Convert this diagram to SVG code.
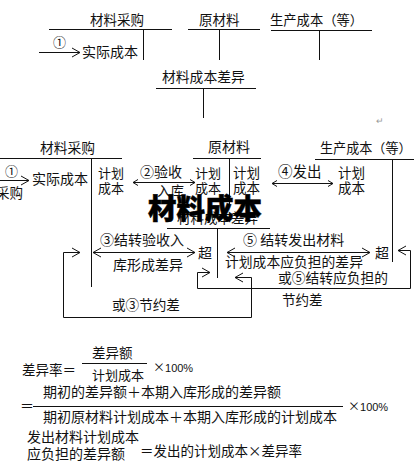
<svg xmlns="http://www.w3.org/2000/svg" width="414" height="465" viewBox="0 0 414 465">
<defs>
<style>
text{font-family:'Noto Sans CJK SC','Noto Sans',sans-serif;fill:#111;font-size:13.5px}
.ln{stroke:#111;stroke-width:1;fill:none}
.big{font-size:28.5px;font-weight:900;fill:#000;stroke:#000;stroke-width:0.5px}
.pct{font-family:'Liberation Sans',sans-serif;font-size:11px}
</style>
<marker id="ah" markerUnits="userSpaceOnUse" markerWidth="12" markerHeight="12" refX="9" refY="6" orient="auto-start-reverse"><path d="M1,1.5 L9,6 L1,10.5" fill="none" stroke="#111" stroke-width="1"/></marker>
<marker id="as" markerUnits="userSpaceOnUse" markerWidth="10" markerHeight="10" refX="6" refY="5" orient="auto-start-reverse"><path d="M1,2 L6,5 L1,8" fill="none" stroke="#111" stroke-width="1"/></marker>
</defs>
<rect width="414" height="465" fill="#fff"/>

<g id="top-purchase">
<text x="90" y="25">材料采购</text>
<line class="ln" x1="49" y1="29.5" x2="172" y2="29.5"/>
<line class="ln" x1="143.5" y1="29.5" x2="143.5" y2="60"/>
<text x="53" y="47" style="font-size:13px">①</text>
<text x="82" y="57" style="font-size:14px">实际成本</text>
</g>
<g id="top-raw">
<text x="199" y="25">原材料</text>
<line class="ln" x1="188" y1="29.5" x2="260" y2="29.5"/>
<line class="ln" x1="219.5" y1="29.5" x2="219.5" y2="60"/>
</g>
<g id="top-prod">
<text x="270" y="25" style="font-size:13.3px">生产成本（等）</text>
<line class="ln" x1="271" y1="30.5" x2="372" y2="30.5"/>
<line class="ln" x1="319.5" y1="30.5" x2="319.5" y2="60"/>
</g>
<g id="top-diff">
<text x="162" y="82" style="font-size:13.8px">材料成本差异</text>
<line class="ln" x1="156" y1="88.5" x2="256" y2="88.5"/>
<line class="ln" x1="203.5" y1="88.5" x2="203.5" y2="118"/>
</g>
<text x="376" y="124" style="font-size:9px;fill:#999">↵</text>

<g id="mid-purchase">
<text x="40" y="153" style="font-size:13.75px">材料采购</text>
<line class="ln" x1="0" y1="158.5" x2="122" y2="158.5"/>
<line class="ln" x1="91.5" y1="158.5" x2="91.5" y2="287"/>
<text x="5" y="176" style="font-size:13px">①</text>
<text x="32" y="184" style="font-size:14px">实际成本</text>
<text x="-4" y="198">采购</text>
<text x="98" y="178" style="font-size:13px">计划</text>
<text x="98" y="193" style="font-size:13px">成本</text>
</g>
<g id="mid-raw">
<text x="208" y="152" style="font-size:14px">原材料</text>
<line class="ln" x1="193" y1="158.5" x2="261" y2="158.5"/>
<line class="ln" x1="229.5" y1="158.5" x2="229.5" y2="205"/>
<text x="195" y="178" style="font-size:13px">计划</text>
<text x="195" y="193" style="font-size:13px">成本</text>
<text x="233" y="178">计划</text>
<text x="233" y="193">成本</text>
</g>
<g id="mid-prod">
<text x="320" y="153" style="font-size:13.1px">生产成本（等）</text>
<line class="ln" x1="315" y1="159.5" x2="414" y2="159.5"/>
<line class="ln" x1="392.5" y1="159.5" x2="392.5" y2="262"/>
<text x="338" y="178">计划</text>
<text x="338" y="193">成本</text>
<text x="375" y="258" style="font-size:14px">超</text>
</g>
<g id="mid-diff">
<text x="177" y="223">材料成本差异</text>
<line class="ln" x1="167" y1="228.5" x2="270" y2="228.5"/>
<line class="ln" x1="217.5" y1="228.5" x2="217.5" y2="278"/>
<text x="198" y="258" style="font-size:14px">超</text>
</g>

<g id="connectors">
<line class="ln" x1="39" y1="52.5" x2="80" y2="52.5" marker-end="url(#ah)"/>
<line class="ln" x1="0" y1="180.5" x2="29" y2="180.5" marker-end="url(#ah)"/>
<line class="ln" x1="133" y1="182.5" x2="195" y2="182.5" marker-start="url(#as)" marker-end="url(#as)"/>
<line class="ln" x1="272" y1="183.5" x2="333" y2="183.5" marker-start="url(#as)" marker-end="url(#as)"/>
<line class="ln" x1="93" y1="252.5" x2="195" y2="252.5" marker-start="url(#ah)" marker-end="url(#ah)"/>
<line class="ln" x1="227" y1="252.5" x2="370" y2="252.5" marker-start="url(#ah)" marker-end="url(#ah)"/>
<polyline class="ln" points="80,252.5 63.5,252.5 63.5,317.5 251.5,317.5 251.5,277.5 235,277.5" marker-start="url(#ah)" marker-end="url(#ah)"/>
<polyline class="ln" points="398,250.5 410.5,250.5 410.5,288.5 197.5,288.5 197.5,272.5 210,272.5" marker-start="url(#ah)" marker-end="url(#ah)"/>
</g>

<g id="labels">
<text x="140" y="177" style="font-size:14px">②验收</text>
<text x="157" y="196">入库</text>
<text x="278" y="177" style="font-size:14.5px">④发出</text>
<text x="100" y="245" style="font-size:14px">③结转验收入</text>
<text x="113" y="270" style="font-size:14px">库形成差异</text>
<text x="112" y="310" style="font-size:13.6px">或③节约差</text>
<text x="243" y="245" style="font-size:14px">⑤ 结转发出材料</text>
<text x="225" y="267" style="font-size:13.8px">计划成本应负担的差异</text>
<text x="278" y="283" style="font-size:13.75px">或⑤结转应负担的</text>
<text x="282" y="305">节约差</text>
</g>

<text class="big" x="148" y="219">材料成本</text>

<g id="formulas">
<text x="22" y="375">差异率＝</text>
<text x="92" y="358">差异额</text>
<line class="ln" x1="82" y1="363.5" x2="147" y2="363.5"/>
<text x="92" y="380" style="font-size:13px">计划成本</text>
<text x="153" y="372"><tspan style="font-size:12px">×</tspan><tspan class="pct">100%</tspan></text>
<text x="20" y="411" style="font-size:14px">＝</text>
<text x="43" y="397" style="font-size:14px">期初的差异额＋本期入库形成的差异额</text>
<line class="ln" x1="33" y1="406.5" x2="343" y2="406.5"/>
<text x="43" y="422" style="font-size:14px">期初原材料计划成本＋本期入库形成的计划成本</text>
<text x="348" y="411"><tspan style="font-size:12px">×</tspan><tspan class="pct">100%</tspan></text>
<text x="27" y="442" style="font-size:14px">发出材料计划成本</text>
<text x="27" y="459" style="font-size:14px">应负担的差异额</text>
<text x="140" y="456">＝发出的计划成本×差异率</text>
</g>
</svg>
